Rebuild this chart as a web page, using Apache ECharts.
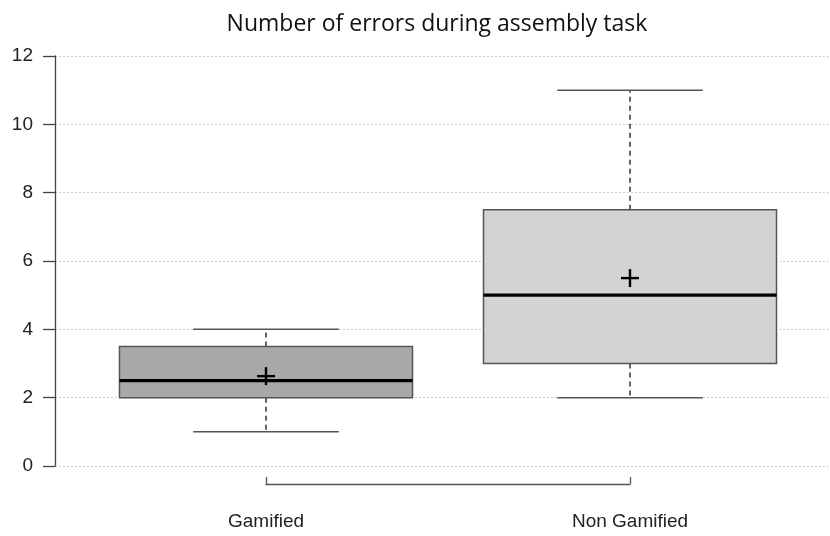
<!DOCTYPE html>
<html>
<head>
<meta charset="utf-8">
<script src="https://cdn.jsdelivr.net/npm/echarts@6/dist/echarts.min.js"></script>
<style>
  html, body { margin: 0; padding: 0; background: #fff; }
  #chart { width: 830px; height: 536px; }
</style>
</head>
<body>
<div id="chart"></div>
<script>
// Boxplot summary for the number of errors in each group
const categories = ['Gamified', 'Non Gamified'];
const minVals    = [1, 2];
const q1Vals     = [2, 3];
const medianVals = [2.5, 5];
const q3Vals     = [3.5, 7.5];
const maxVals    = [4, 11];
const meanVals   = [2.63, 5.5];
const yTicks     = [0, 2, 4, 6, 8, 10, 12];

const boxFills = ['#a9a9a9', '#d3d3d3'];
const BOX_HALF = 0.4025;   // half box width, as a fraction of category spacing
const CAP_HALF = 0.2;      // half whisker-cap width

const boxData = categories.map((c, i) => [i, minVals[i], q1Vals[i], medianVals[i], q3Vals[i], maxVals[i], meanVals[i]]);

function renderBox(params, api) {
  const i = api.value(0);
  const step = api.size([1, 0])[0];
  const bh = step * BOX_HALF, ch = step * CAP_HALF;
  const pMin = api.coord([i, api.value(1)]);
  const pQ1 = api.coord([i, api.value(2)]);
  const pMed = api.coord([i, api.value(3)]);
  const pQ3 = api.coord([i, api.value(4)]);
  const pMax = api.coord([i, api.value(5)]);
  const pMean = api.coord([i, api.value(6)]);
  const x = pMed[0];
  const edge = '#555';
  const m = 9;
  return {
    type: 'group',
    children: [
      { type: 'line', shape: { x1: x, y1: pQ3[1], x2: x, y2: pMax[1] },
        style: { stroke: '#333', lineWidth: 1.5, lineDash: [5, 4] } },
      { type: 'line', shape: { x1: x, y1: pQ1[1], x2: x, y2: pMin[1] },
        style: { stroke: '#333', lineWidth: 1.5, lineDash: [5, 4] } },
      { type: 'line', shape: { x1: x - ch, y1: pMax[1], x2: x + ch, y2: pMax[1] },
        style: { stroke: edge, lineWidth: 1.5 } },
      { type: 'line', shape: { x1: x - ch, y1: pMin[1], x2: x + ch, y2: pMin[1] },
        style: { stroke: edge, lineWidth: 1.5 } },
      { type: 'rect', shape: { x: x - bh, y: pQ3[1], width: 2 * bh, height: pQ1[1] - pQ3[1] },
        style: { fill: boxFills[params.dataIndex], stroke: edge, lineWidth: 1.5 } },
      { type: 'line', shape: { x1: x - bh, y1: pMed[1], x2: x + bh, y2: pMed[1] },
        style: { stroke: '#000', lineWidth: 3.2 } },
      { type: 'line', shape: { x1: pMean[0] - m, y1: pMean[1], x2: pMean[0] + m, y2: pMean[1] },
        style: { stroke: '#000', lineWidth: 2.4 } },
      { type: 'line', shape: { x1: pMean[0], y1: pMean[1] - m, x2: pMean[0], y2: pMean[1] + m },
        style: { stroke: '#000', lineWidth: 2.4 } }
    ]
  };
}

const chart = echarts.init(document.getElementById('chart'), null, { renderer: 'canvas' });
chart.setOption({
  backgroundColor: '#fff',
  animation: false,
  title: {
    text: 'Number of errors during assembly task',
    left: 432,
    textAlign: 'center',
    top: 8,
    textStyle: { fontFamily: 'Open Sans', fontSize: 23, fontWeight: 'normal', color: '#111' }
  },
  grid: [
    { left: 55, right: 0, top: 56, bottom: 70 },
    { left: 266, right: 200, top: 56, bottom: 70 }
  ],
  xAxis: [
    { gridIndex: 0, type: 'value', min: 0, max: 1, show: false },
    {
      gridIndex: 1, type: 'category', data: categories, boundaryGap: false,
      offset: 18,
      axisLine: { show: true, onZero: false, lineStyle: { color: '#555', width: 1.3 } },
      axisTick: { show: true, inside: true, length: 7, lineStyle: { color: '#555', width: 1.3 } },
      axisLabel: { margin: 28, fontFamily: 'Liberation Sans', fontSize: 19, color: '#222' },
      splitLine: { show: false }
    }
  ],
  yAxis: [
    {
      gridIndex: 0, type: 'value', min: 0, max: 12, interval: 2,
      axisLine: { show: true, lineStyle: { color: '#444', width: 1.3 } },
      axisTick: { show: true, length: 12, lineStyle: { color: '#444', width: 1.3 } },
      axisLabel: {
        margin: 22, fontFamily: 'Liberation Sans', fontSize: 19, color: '#222',
        formatter: v => (yTicks.indexOf(v) >= 0 ? String(v) : '')
      },
      splitLine: { show: true, lineStyle: { color: '#cfcfcf', width: 1, type: [2, 2] } }
    },
    { gridIndex: 1, type: 'value', min: 0, max: 12, show: false, splitLine: { show: false } }
  ],
  series: [
    {
      type: 'custom',
      xAxisIndex: 1,
      yAxisIndex: 1,
      data: boxData,
      renderItem: renderBox,
      clip: false
    }
  ]
});
</script>
</body>
</html>
